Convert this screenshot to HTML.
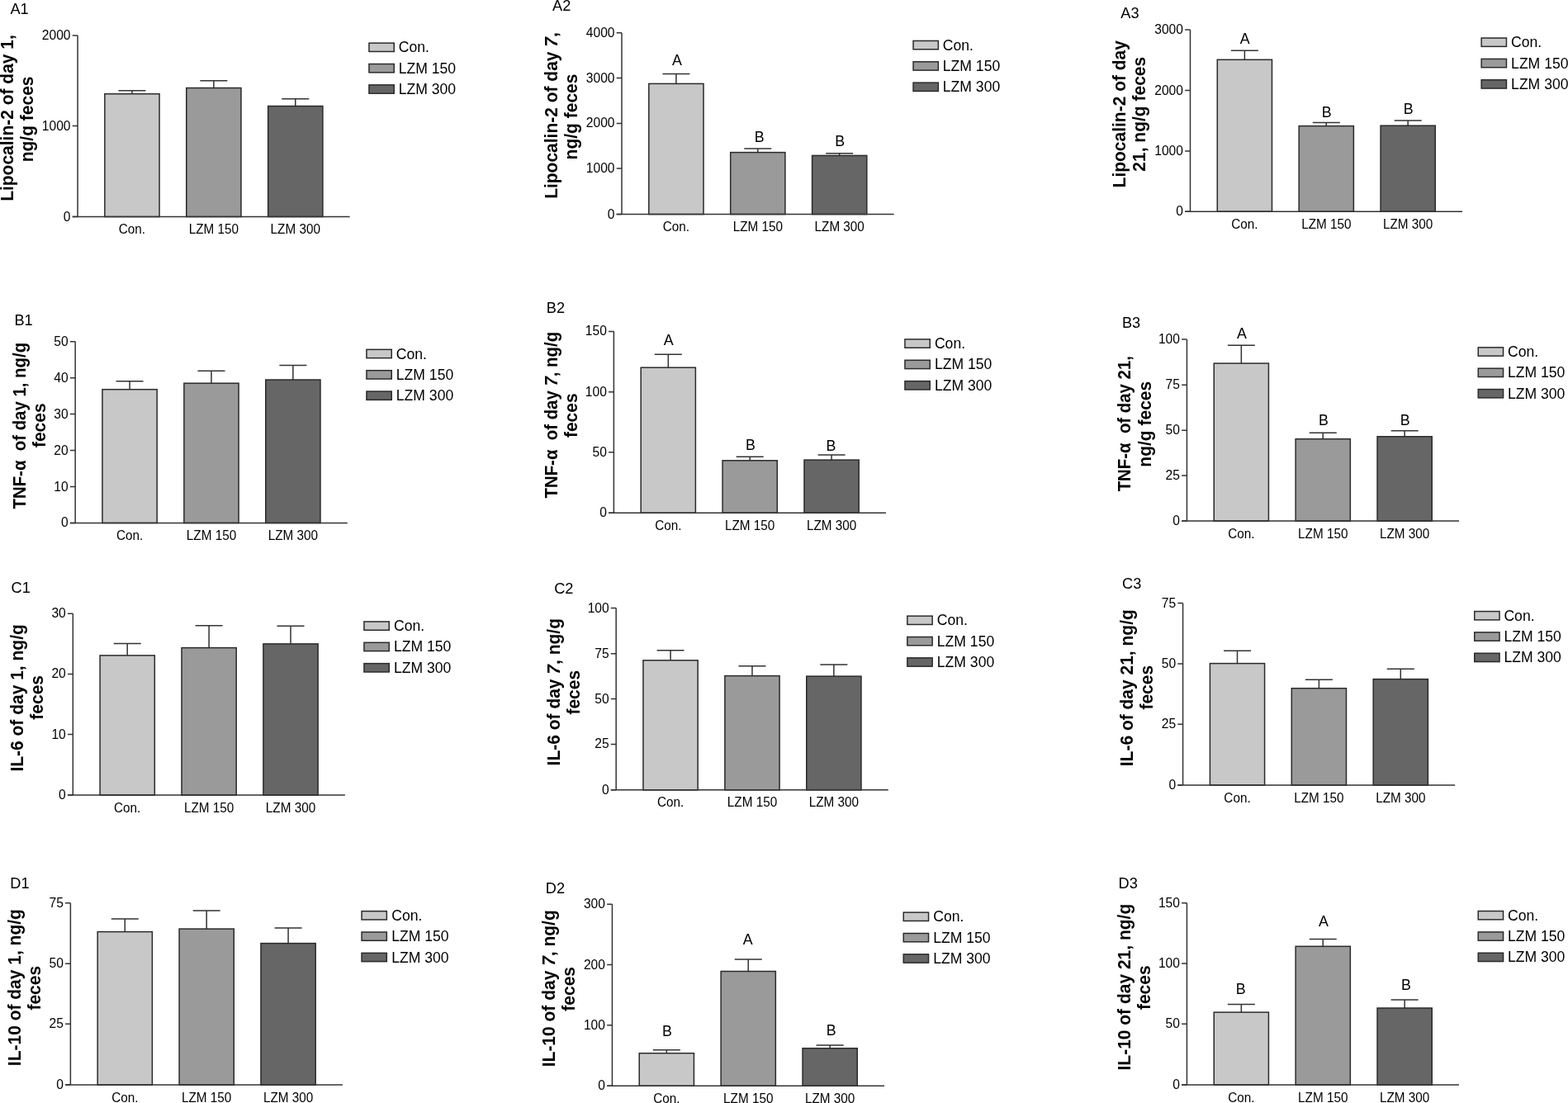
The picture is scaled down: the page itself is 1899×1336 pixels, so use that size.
<!DOCTYPE html><html><head><meta charset="utf-8"><title>Figure</title><style>
html,body{margin:0;padding:0;background:#fff;}
svg{display:block;}
text{font-family:"Liberation Sans",Arial,Helvetica,sans-serif;fill:#000;}
.t{font-size:15.6px;}
.x{font-size:15.3px;}
.l{font-size:17.6px;}
.s{font-size:17.8px;}
.p{font-size:18.2px;}
.y{font-size:21.0px;font-weight:bold;white-space:pre;}
</style></head><body>
<svg width="1899" height="1336" viewBox="0 0 1899 1336">
<rect x="0" y="0" width="1899" height="1336" fill="#ffffff"/>
<g><path d="M159.96 113.7V109.8M143.46 109.8H176.46" stroke="#333333" stroke-width="1.5" fill="none"/><rect x="126.86" y="113.7" width="66.2" height="148.83" fill="#c8c8c8" stroke="#2a2a2a" stroke-width="1.5"/><path d="M258.86 106.5V97.7M242.36 97.7H275.36" stroke="#333333" stroke-width="1.5" fill="none"/><rect x="225.76" y="106.5" width="66.2" height="156.03" fill="#9a9a9a" stroke="#2a2a2a" stroke-width="1.5"/><path d="M357.76 128.5V119.7M341.26 119.7H374.26" stroke="#333333" stroke-width="1.5" fill="none"/><rect x="324.66" y="128.5" width="66.2" height="134.03" fill="#666666" stroke="#2a2a2a" stroke-width="1.5"/><path d="M94.06 43V262.53" stroke="#333333" stroke-width="1.5" fill="none"/><path d="M87.76 262.53H423.66" stroke="#333333" stroke-width="1.5" fill="none"/><path d="M87.76 43H94.06M87.76 152.6H94.06M87.76 262.53H94.06" stroke="#333333" stroke-width="1.5" fill="none"/><text class="t" x="85.56" y="48" text-anchor="end">2000</text><text class="t" x="85.56" y="157.6" text-anchor="end">1000</text><text class="t" x="85.56" y="267.53" text-anchor="end">0</text><text class="x" transform="translate(159.96 283.13) scale(1 1.03)" text-anchor="middle">Con.</text><text class="x" transform="translate(258.86 283.13) scale(1 1.03)" text-anchor="middle">LZM 150</text><text class="x" transform="translate(357.76 283.13) scale(1 1.03)" text-anchor="middle">LZM 300</text><rect x="446.95" y="52.15" width="30.3" height="10.3" fill="#c8c8c8" stroke="#2a2a2a" stroke-width="1.5"/><text class="l" transform="translate(482.7 63.3) scale(1 1.05)">Con.</text><rect x="446.95" y="77.5" width="30.3" height="10.3" fill="#9a9a9a" stroke="#2a2a2a" stroke-width="1.5"/><text class="l" transform="translate(482.7 88.65) scale(1 1.05)">LZM 150</text><rect x="446.95" y="102.85" width="30.3" height="10.3" fill="#666666" stroke="#2a2a2a" stroke-width="1.5"/><text class="l" transform="translate(482.7 114) scale(1 1.05)">LZM 300</text><text class="p" x="12.4" y="16.6">A1</text><text class="y" transform="translate(15.8 143) rotate(-90) scale(1 1.04)" text-anchor="middle">Lipocalin-2 of day 1,</text><text class="y" transform="translate(40.3 144.4) rotate(-90) scale(1 1.04)" text-anchor="middle">ng/g feces</text></g>
<g><path d="M818.9 101.4V89.5M802.4 89.5H835.4" stroke="#333333" stroke-width="1.5" fill="none"/><rect x="785.8" y="101.4" width="66.2" height="158.13" fill="#c8c8c8" stroke="#2a2a2a" stroke-width="1.5"/><path d="M917.8 184.6V180M901.3 180H934.3" stroke="#333333" stroke-width="1.5" fill="none"/><rect x="884.7" y="184.6" width="66.2" height="74.93" fill="#9a9a9a" stroke="#2a2a2a" stroke-width="1.5"/><path d="M1016.7 188.4V185.8M1000.2 185.8H1033.2" stroke="#333333" stroke-width="1.5" fill="none"/><rect x="983.6" y="188.4" width="66.2" height="71.13" fill="#666666" stroke="#2a2a2a" stroke-width="1.5"/><path d="M753 39.7V259.53" stroke="#333333" stroke-width="1.5" fill="none"/><path d="M746.7 259.53H1082.6" stroke="#333333" stroke-width="1.5" fill="none"/><path d="M746.7 39.7H753M746.7 94.5H753M746.7 149.4H753M746.7 204.1H753M746.7 259.53H753" stroke="#333333" stroke-width="1.5" fill="none"/><text class="t" x="744.5" y="44.7" text-anchor="end">4000</text><text class="t" x="744.5" y="99.5" text-anchor="end">3000</text><text class="t" x="744.5" y="154.4" text-anchor="end">2000</text><text class="t" x="744.5" y="209.1" text-anchor="end">1000</text><text class="t" x="744.5" y="264.53" text-anchor="end">0</text><text class="x" transform="translate(818.9 280.13) scale(1 1.03)" text-anchor="middle">Con.</text><text class="x" transform="translate(917.8 280.13) scale(1 1.03)" text-anchor="middle">LZM 150</text><text class="x" transform="translate(1016.7 280.13) scale(1 1.03)" text-anchor="middle">LZM 300</text><text class="s" transform="translate(819.85 79.3) scale(1 1.06)" text-anchor="middle">A</text><text class="s" transform="translate(919.7 171.5) scale(1 1.06)" text-anchor="middle">B</text><text class="s" transform="translate(1017.2 176.7) scale(1 1.06)" text-anchor="middle">B</text><rect x="1106.05" y="49.45" width="30.3" height="10.3" fill="#c8c8c8" stroke="#2a2a2a" stroke-width="1.5"/><text class="l" transform="translate(1141.8 60.6) scale(1 1.05)">Con.</text><rect x="1106.05" y="74.8" width="30.3" height="10.3" fill="#9a9a9a" stroke="#2a2a2a" stroke-width="1.5"/><text class="l" transform="translate(1141.8 85.95) scale(1 1.05)">LZM 150</text><rect x="1106.05" y="100.15" width="30.3" height="10.3" fill="#666666" stroke="#2a2a2a" stroke-width="1.5"/><text class="l" transform="translate(1141.8 111.3) scale(1 1.05)">LZM 300</text><text class="p" x="669" y="13.3">A2</text><text class="y" transform="translate(674.9 140) rotate(-90) scale(1 1.04)" text-anchor="middle">Lipocalin-2 of day <tspan font-style="italic">7</tspan>,</text><text class="y" transform="translate(699.2 141.5) rotate(-90) scale(1 1.04)" text-anchor="middle">ng/g feces</text></g>
<g><path d="M1507.38 72.3V61.3M1490.88 61.3H1523.88" stroke="#333333" stroke-width="1.5" fill="none"/><rect x="1474.28" y="72.3" width="66.2" height="183.97" fill="#c8c8c8" stroke="#2a2a2a" stroke-width="1.5"/><path d="M1606.28 152.6V148.6M1589.78 148.6H1622.78" stroke="#333333" stroke-width="1.5" fill="none"/><rect x="1573.18" y="152.6" width="66.2" height="103.67" fill="#9a9a9a" stroke="#2a2a2a" stroke-width="1.5"/><path d="M1705.18 152.2V146M1688.68 146H1721.68" stroke="#333333" stroke-width="1.5" fill="none"/><rect x="1672.08" y="152.2" width="66.2" height="104.07" fill="#666666" stroke="#2a2a2a" stroke-width="1.5"/><path d="M1441.48 36.1V256.27" stroke="#333333" stroke-width="1.5" fill="none"/><path d="M1435.18 256.27H1771.08" stroke="#333333" stroke-width="1.5" fill="none"/><path d="M1435.18 36.1H1441.48M1435.18 109.5H1441.48M1435.18 182.9H1441.48M1435.18 256.27H1441.48" stroke="#333333" stroke-width="1.5" fill="none"/><text class="t" x="1432.98" y="41.1" text-anchor="end">3000</text><text class="t" x="1432.98" y="114.5" text-anchor="end">2000</text><text class="t" x="1432.98" y="187.9" text-anchor="end">1000</text><text class="t" x="1432.98" y="261.27" text-anchor="end">0</text><text class="x" transform="translate(1507.38 276.87) scale(1 1.03)" text-anchor="middle">Con.</text><text class="x" transform="translate(1606.28 276.87) scale(1 1.03)" text-anchor="middle">LZM 150</text><text class="x" transform="translate(1705.18 276.87) scale(1 1.03)" text-anchor="middle">LZM 300</text><text class="s" transform="translate(1507.78 53.1) scale(1 1.06)" text-anchor="middle">A</text><text class="s" transform="translate(1606.68 141.5) scale(1 1.06)" text-anchor="middle">B</text><text class="s" transform="translate(1705.58 137.6) scale(1 1.06)" text-anchor="middle">B</text><rect x="1794.15" y="46.05" width="30.3" height="10.3" fill="#c8c8c8" stroke="#2a2a2a" stroke-width="1.5"/><text class="l" transform="translate(1830.1 57.2) scale(1 1.05)">Con.</text><rect x="1794.15" y="71.4" width="30.3" height="10.3" fill="#9a9a9a" stroke="#2a2a2a" stroke-width="1.5"/><text class="l" transform="translate(1830.1 82.55) scale(1 1.05)">LZM 150</text><rect x="1794.15" y="96.75" width="30.3" height="10.3" fill="#666666" stroke="#2a2a2a" stroke-width="1.5"/><text class="l" transform="translate(1830.1 107.9) scale(1 1.05)">LZM 300</text><text class="p" x="1357.3" y="22.1">A3</text><text class="y" transform="translate(1363.1 138.25) rotate(-90) scale(1 1.04)" text-anchor="middle">Lipocalin-2 of day</text><text class="y" transform="translate(1387.2 138.25) rotate(-90) scale(1 1.04)" text-anchor="middle">21, ng/g feces</text></g>
<g><path d="M157.07 471.7V461.8M140.57 461.8H173.57" stroke="#333333" stroke-width="1.5" fill="none"/><rect x="123.97" y="471.7" width="66.2" height="161.78" fill="#c8c8c8" stroke="#2a2a2a" stroke-width="1.5"/><path d="M255.97 464.2V449.2M239.47 449.2H272.47" stroke="#333333" stroke-width="1.5" fill="none"/><rect x="222.87" y="464.2" width="66.2" height="169.28" fill="#9a9a9a" stroke="#2a2a2a" stroke-width="1.5"/><path d="M354.87 460V442.5M338.37 442.5H371.37" stroke="#333333" stroke-width="1.5" fill="none"/><rect x="321.77" y="460" width="66.2" height="173.48" fill="#666666" stroke="#2a2a2a" stroke-width="1.5"/><path d="M91.17 413.8V633.48" stroke="#333333" stroke-width="1.5" fill="none"/><path d="M84.87 633.48H420.77" stroke="#333333" stroke-width="1.5" fill="none"/><path d="M84.87 413.8H91.17M84.87 457.8H91.17M84.87 501.6H91.17M84.87 545.6H91.17M84.87 589.6H91.17M84.87 633.48H91.17" stroke="#333333" stroke-width="1.5" fill="none"/><text class="t" x="82.67" y="418.8" text-anchor="end">50</text><text class="t" x="82.67" y="462.8" text-anchor="end">40</text><text class="t" x="82.67" y="506.6" text-anchor="end">30</text><text class="t" x="82.67" y="550.6" text-anchor="end">20</text><text class="t" x="82.67" y="594.6" text-anchor="end">10</text><text class="t" x="82.67" y="638.48" text-anchor="end">0</text><text class="x" transform="translate(157.07 654.08) scale(1 1.03)" text-anchor="middle">Con.</text><text class="x" transform="translate(255.97 654.08) scale(1 1.03)" text-anchor="middle">LZM 150</text><text class="x" transform="translate(354.87 654.08) scale(1 1.03)" text-anchor="middle">LZM 300</text><rect x="443.95" y="423.35" width="30.3" height="10.3" fill="#c8c8c8" stroke="#2a2a2a" stroke-width="1.5"/><text class="l" transform="translate(479.8 434.5) scale(1 1.05)">Con.</text><rect x="443.95" y="448.7" width="30.3" height="10.3" fill="#9a9a9a" stroke="#2a2a2a" stroke-width="1.5"/><text class="l" transform="translate(479.8 459.85) scale(1 1.05)">LZM 150</text><rect x="443.95" y="474.05" width="30.3" height="10.3" fill="#666666" stroke="#2a2a2a" stroke-width="1.5"/><text class="l" transform="translate(479.8 485.2) scale(1 1.05)">LZM 300</text><text class="p" x="17.4" y="393.9">B1</text><text class="y" style="font-size:20.4px" transform="translate(30.6 515.7) rotate(-90) scale(1 1.04)" text-anchor="middle">TNF-α  of day 1, ng/g</text><text class="y" transform="translate(54.6 515.25) rotate(-90) scale(1 1.04)" text-anchor="middle">feces</text></g>
<g><path d="M809.28 445.2V429.3M792.78 429.3H825.78" stroke="#333333" stroke-width="1.5" fill="none"/><rect x="776.18" y="445.2" width="66.2" height="176.07" fill="#c8c8c8" stroke="#2a2a2a" stroke-width="1.5"/><path d="M908.18 557.8V553.3M891.68 553.3H924.68" stroke="#333333" stroke-width="1.5" fill="none"/><rect x="875.08" y="557.8" width="66.2" height="63.47" fill="#9a9a9a" stroke="#2a2a2a" stroke-width="1.5"/><path d="M1007.08 557.1V551.1M990.58 551.1H1023.58" stroke="#333333" stroke-width="1.5" fill="none"/><rect x="973.98" y="557.1" width="66.2" height="64.17" fill="#666666" stroke="#2a2a2a" stroke-width="1.5"/><path d="M743.38 401.4V621.27" stroke="#333333" stroke-width="1.5" fill="none"/><path d="M737.08 621.27H1072.98" stroke="#333333" stroke-width="1.5" fill="none"/><path d="M737.08 401.4H743.38M737.08 474.8H743.38M737.08 547.8H743.38M737.08 621.27H743.38" stroke="#333333" stroke-width="1.5" fill="none"/><text class="t" x="734.88" y="406.4" text-anchor="end">150</text><text class="t" x="734.88" y="479.8" text-anchor="end">100</text><text class="t" x="734.88" y="552.8" text-anchor="end">50</text><text class="t" x="734.88" y="626.27" text-anchor="end">0</text><text class="x" transform="translate(809.28 641.87) scale(1 1.03)" text-anchor="middle">Con.</text><text class="x" transform="translate(908.18 641.87) scale(1 1.03)" text-anchor="middle">LZM 150</text><text class="x" transform="translate(1007.08 641.87) scale(1 1.03)" text-anchor="middle">LZM 300</text><text class="s" transform="translate(809.6 417.6) scale(1 1.06)" text-anchor="middle">A</text><text class="s" transform="translate(909 545.4) scale(1 1.06)" text-anchor="middle">B</text><text class="s" transform="translate(1006.5 546.3) scale(1 1.06)" text-anchor="middle">B</text><rect x="1095.95" y="410.95" width="30.3" height="10.3" fill="#c8c8c8" stroke="#2a2a2a" stroke-width="1.5"/><text class="l" transform="translate(1131.9 422.1) scale(1 1.05)">Con.</text><rect x="1095.95" y="436.3" width="30.3" height="10.3" fill="#9a9a9a" stroke="#2a2a2a" stroke-width="1.5"/><text class="l" transform="translate(1131.9 447.45) scale(1 1.05)">LZM 150</text><rect x="1095.95" y="461.65" width="30.3" height="10.3" fill="#666666" stroke="#2a2a2a" stroke-width="1.5"/><text class="l" transform="translate(1131.9 472.8) scale(1 1.05)">LZM 300</text><text class="p" x="661.8" y="378.8">B2</text><text class="y" style="font-size:20.4px" transform="translate(674.8 502.7) rotate(-90) scale(1 1.04)" text-anchor="middle">TNF-α  of day <tspan font-style="italic">7</tspan>, ng/g</text><text class="y" transform="translate(698.8 503.25) rotate(-90) scale(1 1.04)" text-anchor="middle">feces</text></g>
<g><path d="M1503.34 440.1V418.2M1486.84 418.2H1519.84" stroke="#333333" stroke-width="1.5" fill="none"/><rect x="1470.24" y="440.1" width="66.2" height="190.96" fill="#c8c8c8" stroke="#2a2a2a" stroke-width="1.5"/><path d="M1602.24 531.7V524.2M1585.74 524.2H1618.74" stroke="#333333" stroke-width="1.5" fill="none"/><rect x="1569.14" y="531.7" width="66.2" height="99.36" fill="#9a9a9a" stroke="#2a2a2a" stroke-width="1.5"/><path d="M1701.14 528.8V521.7M1684.64 521.7H1717.64" stroke="#333333" stroke-width="1.5" fill="none"/><rect x="1668.04" y="528.8" width="66.2" height="102.26" fill="#666666" stroke="#2a2a2a" stroke-width="1.5"/><path d="M1437.44 411.1V631.06" stroke="#333333" stroke-width="1.5" fill="none"/><path d="M1431.14 631.06H1767.04" stroke="#333333" stroke-width="1.5" fill="none"/><path d="M1431.14 411.1H1437.44M1431.14 466.2H1437.44M1431.14 521.3H1437.44M1431.14 576.1H1437.44M1431.14 631.06H1437.44" stroke="#333333" stroke-width="1.5" fill="none"/><text class="t" x="1428.94" y="416.1" text-anchor="end">100</text><text class="t" x="1428.94" y="471.2" text-anchor="end">75</text><text class="t" x="1428.94" y="526.3" text-anchor="end">50</text><text class="t" x="1428.94" y="581.1" text-anchor="end">25</text><text class="t" x="1428.94" y="636.06" text-anchor="end">0</text><text class="x" transform="translate(1503.34 651.66) scale(1 1.03)" text-anchor="middle">Con.</text><text class="x" transform="translate(1602.24 651.66) scale(1 1.03)" text-anchor="middle">LZM 150</text><text class="x" transform="translate(1701.14 651.66) scale(1 1.03)" text-anchor="middle">LZM 300</text><text class="s" transform="translate(1503.9 409.8) scale(1 1.06)" text-anchor="middle">A</text><text class="s" transform="translate(1603 515.3) scale(1 1.06)" text-anchor="middle">B</text><text class="s" transform="translate(1701.8 515.3) scale(1 1.06)" text-anchor="middle">B</text><rect x="1790.25" y="420.85" width="30.3" height="10.3" fill="#c8c8c8" stroke="#2a2a2a" stroke-width="1.5"/><text class="l" transform="translate(1826 432) scale(1 1.05)">Con.</text><rect x="1790.25" y="446.2" width="30.3" height="10.3" fill="#9a9a9a" stroke="#2a2a2a" stroke-width="1.5"/><text class="l" transform="translate(1826 457.35) scale(1 1.05)">LZM 150</text><rect x="1790.25" y="471.55" width="30.3" height="10.3" fill="#666666" stroke="#2a2a2a" stroke-width="1.5"/><text class="l" transform="translate(1826 482.7) scale(1 1.05)">LZM 300</text><text class="p" x="1358.9" y="396.5">B3</text><text class="y" style="font-size:20.4px" transform="translate(1369 513.2) rotate(-90) scale(1 1.04)" text-anchor="middle">TNF-α  of day 21,</text><text class="y" transform="translate(1393.6 513.75) rotate(-90) scale(1 1.04)" text-anchor="middle">ng/g feces</text></g>
<g><path d="M154.21 793.9V779.5M137.71 779.5H170.71" stroke="#333333" stroke-width="1.5" fill="none"/><rect x="121.11" y="793.9" width="66.2" height="169.16" fill="#c8c8c8" stroke="#2a2a2a" stroke-width="1.5"/><path d="M253.11 784.6V757.8M236.61 757.8H269.61" stroke="#333333" stroke-width="1.5" fill="none"/><rect x="220.01" y="784.6" width="66.2" height="178.46" fill="#9a9a9a" stroke="#2a2a2a" stroke-width="1.5"/><path d="M352.01 779.9V758.3M335.51 758.3H368.51" stroke="#333333" stroke-width="1.5" fill="none"/><rect x="318.91" y="779.9" width="66.2" height="183.16" fill="#666666" stroke="#2a2a2a" stroke-width="1.5"/><path d="M88.31 743.2V963.06" stroke="#333333" stroke-width="1.5" fill="none"/><path d="M82.01 963.06H417.91" stroke="#333333" stroke-width="1.5" fill="none"/><path d="M82.01 743.2H88.31M82.01 816.4H88.31M82.01 889.6H88.31M82.01 963.06H88.31" stroke="#333333" stroke-width="1.5" fill="none"/><text class="t" x="79.81" y="748.2" text-anchor="end">30</text><text class="t" x="79.81" y="821.4" text-anchor="end">20</text><text class="t" x="79.81" y="894.6" text-anchor="end">10</text><text class="t" x="79.81" y="968.06" text-anchor="end">0</text><text class="x" transform="translate(154.21 983.66) scale(1 1.03)" text-anchor="middle">Con.</text><text class="x" transform="translate(253.11 983.66) scale(1 1.03)" text-anchor="middle">LZM 150</text><text class="x" transform="translate(352.01 983.66) scale(1 1.03)" text-anchor="middle">LZM 300</text><rect x="440.95" y="752.95" width="30.3" height="10.3" fill="#c8c8c8" stroke="#2a2a2a" stroke-width="1.5"/><text class="l" transform="translate(477 764.1) scale(1 1.05)">Con.</text><rect x="440.95" y="778.3" width="30.3" height="10.3" fill="#9a9a9a" stroke="#2a2a2a" stroke-width="1.5"/><text class="l" transform="translate(477 789.45) scale(1 1.05)">LZM 150</text><rect x="440.95" y="803.65" width="30.3" height="10.3" fill="#666666" stroke="#2a2a2a" stroke-width="1.5"/><text class="l" transform="translate(477 814.8) scale(1 1.05)">LZM 300</text><text class="p" x="13.5" y="718.2">C1</text><text class="y" transform="translate(27.6 845.4) rotate(-90) scale(1 1.04)" text-anchor="middle">IL-6 of day 1, ng/g</text><text class="y" transform="translate(51.5 844.85) rotate(-90) scale(1 1.04)" text-anchor="middle">feces</text></g>
<g><path d="M812.07 799.8V787.7M795.57 787.7H828.57" stroke="#333333" stroke-width="1.5" fill="none"/><rect x="778.97" y="799.8" width="66.2" height="157.05" fill="#c8c8c8" stroke="#2a2a2a" stroke-width="1.5"/><path d="M910.97 818.6V806.7M894.47 806.7H927.47" stroke="#333333" stroke-width="1.5" fill="none"/><rect x="877.87" y="818.6" width="66.2" height="138.25" fill="#9a9a9a" stroke="#2a2a2a" stroke-width="1.5"/><path d="M1009.87 819.1V804.9M993.37 804.9H1026.37" stroke="#333333" stroke-width="1.5" fill="none"/><rect x="976.77" y="819.1" width="66.2" height="137.75" fill="#666666" stroke="#2a2a2a" stroke-width="1.5"/><path d="M746.17 736.6V956.85" stroke="#333333" stroke-width="1.5" fill="none"/><path d="M739.87 956.85H1075.77" stroke="#333333" stroke-width="1.5" fill="none"/><path d="M739.87 736.6H746.17M739.87 791.7H746.17M739.87 846.5H746.17M739.87 901.4H746.17M739.87 956.85H746.17" stroke="#333333" stroke-width="1.5" fill="none"/><text class="t" x="737.67" y="741.6" text-anchor="end">100</text><text class="t" x="737.67" y="796.7" text-anchor="end">75</text><text class="t" x="737.67" y="851.5" text-anchor="end">50</text><text class="t" x="737.67" y="906.4" text-anchor="end">25</text><text class="t" x="737.67" y="961.85" text-anchor="end">0</text><text class="x" transform="translate(812.07 977.45) scale(1 1.03)" text-anchor="middle">Con.</text><text class="x" transform="translate(910.97 977.45) scale(1 1.03)" text-anchor="middle">LZM 150</text><text class="x" transform="translate(1009.87 977.45) scale(1 1.03)" text-anchor="middle">LZM 300</text><rect x="1098.85" y="746.15" width="30.3" height="10.3" fill="#c8c8c8" stroke="#2a2a2a" stroke-width="1.5"/><text class="l" transform="translate(1134.8 757.3) scale(1 1.05)">Con.</text><rect x="1098.85" y="771.5" width="30.3" height="10.3" fill="#9a9a9a" stroke="#2a2a2a" stroke-width="1.5"/><text class="l" transform="translate(1134.8 782.65) scale(1 1.05)">LZM 150</text><rect x="1098.85" y="796.85" width="30.3" height="10.3" fill="#666666" stroke="#2a2a2a" stroke-width="1.5"/><text class="l" transform="translate(1134.8 808) scale(1 1.05)">LZM 300</text><text class="p" x="671.2" y="718.7">C2</text><text class="y" transform="translate(677.8 838.2) rotate(-90) scale(1 1.04)" text-anchor="middle">IL-6 of day <tspan font-style="italic">7</tspan>, ng/g</text><text class="y" transform="translate(701.8 838.75) rotate(-90) scale(1 1.04)" text-anchor="middle">feces</text></g>
<g><path d="M1498.49 803.6V788.3M1481.99 788.3H1514.99" stroke="#333333" stroke-width="1.5" fill="none"/><rect x="1465.39" y="803.6" width="66.2" height="147.35" fill="#c8c8c8" stroke="#2a2a2a" stroke-width="1.5"/><path d="M1597.39 833.7V823.3M1580.89 823.3H1613.89" stroke="#333333" stroke-width="1.5" fill="none"/><rect x="1564.29" y="833.7" width="66.2" height="117.25" fill="#9a9a9a" stroke="#2a2a2a" stroke-width="1.5"/><path d="M1696.29 822.6V810.2M1679.79 810.2H1712.79" stroke="#333333" stroke-width="1.5" fill="none"/><rect x="1663.19" y="822.6" width="66.2" height="128.35" fill="#666666" stroke="#2a2a2a" stroke-width="1.5"/><path d="M1432.59 730.6V950.95" stroke="#333333" stroke-width="1.5" fill="none"/><path d="M1426.29 950.95H1762.19" stroke="#333333" stroke-width="1.5" fill="none"/><path d="M1426.29 730.6H1432.59M1426.29 804H1432.59M1426.29 877.2H1432.59M1426.29 950.95H1432.59" stroke="#333333" stroke-width="1.5" fill="none"/><text class="t" x="1424.09" y="735.6" text-anchor="end">75</text><text class="t" x="1424.09" y="809" text-anchor="end">50</text><text class="t" x="1424.09" y="882.2" text-anchor="end">25</text><text class="t" x="1424.09" y="955.95" text-anchor="end">0</text><text class="x" transform="translate(1498.49 971.55) scale(1 1.03)" text-anchor="middle">Con.</text><text class="x" transform="translate(1597.39 971.55) scale(1 1.03)" text-anchor="middle">LZM 150</text><text class="x" transform="translate(1696.29 971.55) scale(1 1.03)" text-anchor="middle">LZM 300</text><rect x="1785.75" y="740.55" width="30.3" height="10.3" fill="#c8c8c8" stroke="#2a2a2a" stroke-width="1.5"/><text class="l" transform="translate(1821.4 751.7) scale(1 1.05)">Con.</text><rect x="1785.75" y="765.9" width="30.3" height="10.3" fill="#9a9a9a" stroke="#2a2a2a" stroke-width="1.5"/><text class="l" transform="translate(1821.4 777.05) scale(1 1.05)">LZM 150</text><rect x="1785.75" y="791.25" width="30.3" height="10.3" fill="#666666" stroke="#2a2a2a" stroke-width="1.5"/><text class="l" transform="translate(1821.4 802.4) scale(1 1.05)">LZM 300</text><text class="p" x="1359" y="712.7">C3</text><text class="y" transform="translate(1371.9 833.2) rotate(-90) scale(1 1.04)" text-anchor="middle">IL-6 of day 21, ng/g</text><text class="y" transform="translate(1396.1 832.7) rotate(-90) scale(1 1.04)" text-anchor="middle">feces</text></g>
<g><path d="M151.28 1128.6V1112.9M134.78 1112.9H167.78" stroke="#333333" stroke-width="1.5" fill="none"/><rect x="118.18" y="1128.6" width="66.2" height="185.46" fill="#c8c8c8" stroke="#2a2a2a" stroke-width="1.5"/><path d="M250.18 1125.1V1102.9M233.68 1102.9H266.68" stroke="#333333" stroke-width="1.5" fill="none"/><rect x="217.08" y="1125.1" width="66.2" height="188.96" fill="#9a9a9a" stroke="#2a2a2a" stroke-width="1.5"/><path d="M349.08 1142.6V1124M332.58 1124H365.58" stroke="#333333" stroke-width="1.5" fill="none"/><rect x="315.98" y="1142.6" width="66.2" height="171.46" fill="#666666" stroke="#2a2a2a" stroke-width="1.5"/><path d="M85.38 1093.8V1314.06" stroke="#333333" stroke-width="1.5" fill="none"/><path d="M79.08 1314.06H414.98" stroke="#333333" stroke-width="1.5" fill="none"/><path d="M79.08 1093.8H85.38M79.08 1167.2H85.38M79.08 1240.3H85.38M79.08 1314.06H85.38" stroke="#333333" stroke-width="1.5" fill="none"/><text class="t" x="76.88" y="1098.8" text-anchor="end">75</text><text class="t" x="76.88" y="1172.2" text-anchor="end">50</text><text class="t" x="76.88" y="1245.3" text-anchor="end">25</text><text class="t" x="76.88" y="1319.06" text-anchor="end">0</text><text class="x" transform="translate(151.28 1334.66) scale(1 1.03)" text-anchor="middle">Con.</text><text class="x" transform="translate(250.18 1334.66) scale(1 1.03)" text-anchor="middle">LZM 150</text><text class="x" transform="translate(349.08 1334.66) scale(1 1.03)" text-anchor="middle">LZM 300</text><rect x="438.05" y="1103.65" width="30.3" height="10.3" fill="#c8c8c8" stroke="#2a2a2a" stroke-width="1.5"/><text class="l" transform="translate(474.2 1114.8) scale(1 1.05)">Con.</text><rect x="438.05" y="1129" width="30.3" height="10.3" fill="#9a9a9a" stroke="#2a2a2a" stroke-width="1.5"/><text class="l" transform="translate(474.2 1140.15) scale(1 1.05)">LZM 150</text><rect x="438.05" y="1154.35" width="30.3" height="10.3" fill="#666666" stroke="#2a2a2a" stroke-width="1.5"/><text class="l" transform="translate(474.2 1165.5) scale(1 1.05)">LZM 300</text><text class="p" x="12.3" y="1076.1">D1</text><text class="y" transform="translate(24.6 1196.15) rotate(-90) scale(1 1.04)" text-anchor="middle">IL-10 of day 1, ng/g</text><text class="y" transform="translate(48.6 1196.75) rotate(-90) scale(1 1.04)" text-anchor="middle">feces</text></g>
<g><path d="M807.34 1275.7V1271.7M790.84 1271.7H823.84" stroke="#333333" stroke-width="1.5" fill="none"/><rect x="774.24" y="1275.7" width="66.2" height="39.57" fill="#c8c8c8" stroke="#2a2a2a" stroke-width="1.5"/><path d="M906.24 1176.5V1162.1M889.74 1162.1H922.74" stroke="#333333" stroke-width="1.5" fill="none"/><rect x="873.14" y="1176.5" width="66.2" height="138.77" fill="#9a9a9a" stroke="#2a2a2a" stroke-width="1.5"/><path d="M1005.14 1269.7V1266M988.64 1266H1021.64" stroke="#333333" stroke-width="1.5" fill="none"/><rect x="972.04" y="1269.7" width="66.2" height="45.57" fill="#666666" stroke="#2a2a2a" stroke-width="1.5"/><path d="M741.44 1095.2V1315.27" stroke="#333333" stroke-width="1.5" fill="none"/><path d="M735.14 1315.27H1071.04" stroke="#333333" stroke-width="1.5" fill="none"/><path d="M735.14 1095.2H741.44M735.14 1168.5H741.44M735.14 1241.8H741.44M735.14 1315.27H741.44" stroke="#333333" stroke-width="1.5" fill="none"/><text class="t" x="732.94" y="1100.2" text-anchor="end">300</text><text class="t" x="732.94" y="1173.5" text-anchor="end">200</text><text class="t" x="732.94" y="1246.8" text-anchor="end">100</text><text class="t" x="732.94" y="1320.27" text-anchor="end">0</text><text class="x" transform="translate(807.34 1335.87) scale(1 1.03)" text-anchor="middle">Con.</text><text class="x" transform="translate(906.24 1335.87) scale(1 1.03)" text-anchor="middle">LZM 150</text><text class="x" transform="translate(1005.14 1335.87) scale(1 1.03)" text-anchor="middle">LZM 300</text><text class="s" transform="translate(807.9 1255.3) scale(1 1.06)" text-anchor="middle">B</text><text class="s" transform="translate(905.8 1144.1) scale(1 1.06)" text-anchor="middle">A</text><text class="s" transform="translate(1006.6 1254.2) scale(1 1.06)" text-anchor="middle">B</text><rect x="1094.25" y="1105.15" width="30.3" height="10.3" fill="#c8c8c8" stroke="#2a2a2a" stroke-width="1.5"/><text class="l" transform="translate(1130.2 1116.3) scale(1 1.05)">Con.</text><rect x="1094.25" y="1130.5" width="30.3" height="10.3" fill="#9a9a9a" stroke="#2a2a2a" stroke-width="1.5"/><text class="l" transform="translate(1130.2 1141.65) scale(1 1.05)">LZM 150</text><rect x="1094.25" y="1155.85" width="30.3" height="10.3" fill="#666666" stroke="#2a2a2a" stroke-width="1.5"/><text class="l" transform="translate(1130.2 1167) scale(1 1.05)">LZM 300</text><text class="p" x="660.8" y="1082.1">D2</text><text class="y" transform="translate(671.6 1197.25) rotate(-90) scale(1 1.04)" text-anchor="middle">IL-10 of day <tspan font-style="italic">7</tspan>, ng/g</text><text class="y" transform="translate(696.1 1197.85) rotate(-90) scale(1 1.04)" text-anchor="middle">feces</text></g>
<g><path d="M1503.34 1226.1V1216.6M1486.84 1216.6H1519.84" stroke="#333333" stroke-width="1.5" fill="none"/><rect x="1470.24" y="1226.1" width="66.2" height="87.96" fill="#c8c8c8" stroke="#2a2a2a" stroke-width="1.5"/><path d="M1602.24 1146.3V1137.5M1585.74 1137.5H1618.74" stroke="#333333" stroke-width="1.5" fill="none"/><rect x="1569.14" y="1146.3" width="66.2" height="167.76" fill="#9a9a9a" stroke="#2a2a2a" stroke-width="1.5"/><path d="M1701.14 1221V1211M1684.64 1211H1717.64" stroke="#333333" stroke-width="1.5" fill="none"/><rect x="1668.04" y="1221" width="66.2" height="93.06" fill="#666666" stroke="#2a2a2a" stroke-width="1.5"/><path d="M1437.44 1093.8V1314.06" stroke="#333333" stroke-width="1.5" fill="none"/><path d="M1431.14 1314.06H1767.04" stroke="#333333" stroke-width="1.5" fill="none"/><path d="M1431.14 1093.8H1437.44M1431.14 1166.9H1437.44M1431.14 1240.3H1437.44M1431.14 1314.06H1437.44" stroke="#333333" stroke-width="1.5" fill="none"/><text class="t" x="1428.94" y="1098.8" text-anchor="end">150</text><text class="t" x="1428.94" y="1171.9" text-anchor="end">100</text><text class="t" x="1428.94" y="1245.3" text-anchor="end">50</text><text class="t" x="1428.94" y="1319.06" text-anchor="end">0</text><text class="x" transform="translate(1503.34 1334.66) scale(1 1.03)" text-anchor="middle">Con.</text><text class="x" transform="translate(1602.24 1334.66) scale(1 1.03)" text-anchor="middle">LZM 150</text><text class="x" transform="translate(1701.14 1334.66) scale(1 1.03)" text-anchor="middle">LZM 300</text><text class="s" transform="translate(1502.8 1204.4) scale(1 1.06)" text-anchor="middle">B</text><text class="s" transform="translate(1603 1122.4) scale(1 1.06)" text-anchor="middle">A</text><text class="s" transform="translate(1702.9 1199.1) scale(1 1.06)" text-anchor="middle">B</text><rect x="1790.25" y="1103.55" width="30.3" height="10.3" fill="#c8c8c8" stroke="#2a2a2a" stroke-width="1.5"/><text class="l" transform="translate(1826 1114.7) scale(1 1.05)">Con.</text><rect x="1790.25" y="1128.9" width="30.3" height="10.3" fill="#9a9a9a" stroke="#2a2a2a" stroke-width="1.5"/><text class="l" transform="translate(1826 1140.05) scale(1 1.05)">LZM 150</text><rect x="1790.25" y="1154.25" width="30.3" height="10.3" fill="#666666" stroke="#2a2a2a" stroke-width="1.5"/><text class="l" transform="translate(1826 1165.4) scale(1 1.05)">LZM 300</text><text class="p" x="1354.6" y="1076.1">D3</text><text class="y" transform="translate(1368.9 1195.65) rotate(-90) scale(1 1.04)" text-anchor="middle">IL-10 of day 21, ng/g</text><text class="y" transform="translate(1393.1 1196.2) rotate(-90) scale(1 1.04)" text-anchor="middle">feces</text></g>
</svg></body></html>
